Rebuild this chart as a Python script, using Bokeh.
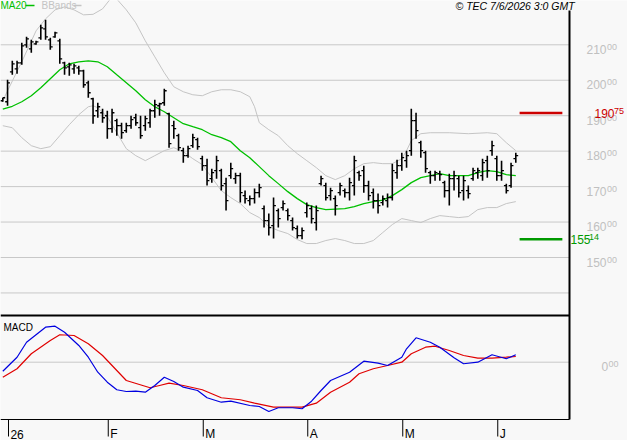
from bokeh.plotting import figure
from bokeh.models import Range1d, ColumnDataSource
from bokeh.embed import file_html
from bokeh.resources import INLINE
from bokeh.core.properties import value

# ---------------- data ----------------
opens = [194.22, 193.94, 202.39, 203.23, 204.93, 210.00, 208.87, 210.28, 211.97, 214.50,
         211.40, 212.25, 211.12, 204.93, 203.80, 203.23, 203.52, 202.67, 199.29, 194.78,
         191.40, 190.84, 189.99, 186.33, 188.59, 187.18, 185.77, 187.18, 189.43, 186.61,
         187.18, 188.02, 191.40, 192.81, 193.66, 190.56, 187.18, 184.36, 180.14, 178.73,
         181.54, 183.23, 177.88, 175.91, 172.24, 174.50, 174.50, 170.84, 173.09, 172.24,
         173.09, 167.46, 166.05, 166.61, 168.30, 163.80, 160.42, 159.01, 163.23, 164.08,
         163.23, 160.42, 158.16, 156.19, 162.67, 163.80, 159.85, 170.84, 170.28, 167.46,
         166.61, 168.30, 168.87, 168.30, 170.28, 173.94, 174.50, 170.28, 168.30, 166.05,
         165.49, 166.05, 166.90, 173.94, 175.91, 177.32, 180.14, 188.59, 182.39, 179.57,
         173.94, 173.09, 173.66, 171.12, 168.87, 172.24, 172.24, 168.87, 168.87, 172.24,
         173.94, 173.09, 177.32, 180.14, 177.88, 173.09, 170.28, 170.28, 177.88]
highs = [195.07, 200.14, 205.49, 205.49, 210.56, 212.25, 211.40, 211.12, 215.63, 217.04,
         211.97, 213.66, 211.69, 205.21, 204.93, 204.64, 204.08, 202.95, 199.85, 195.07,
         193.66, 191.97, 191.40, 191.97, 189.15, 188.02, 188.02, 189.99, 190.56, 189.99,
         189.99, 191.97, 194.50, 193.66, 197.60, 190.84, 188.59, 184.92, 180.98, 181.54,
         184.92, 183.80, 178.73, 177.88, 175.06, 178.73, 175.06, 172.53, 176.76, 173.94,
         173.94, 168.87, 167.46, 169.43, 170.84, 164.64, 162.39, 166.90, 163.80, 166.05,
         163.80, 161.26, 159.01, 158.44, 165.49, 164.64, 164.64, 173.09, 171.12, 169.71,
         167.46, 171.12, 169.43, 172.53, 178.73, 174.50, 175.91, 171.68, 169.43, 168.02,
         167.46, 168.02, 176.47, 177.60, 179.57, 180.14, 191.97, 190.84, 182.95, 180.14,
         174.50, 174.50, 174.50, 171.68, 173.66, 174.50, 173.09, 173.09, 170.28, 175.35,
         175.35, 177.88, 178.73, 182.95, 178.73, 177.32, 170.84, 176.76, 179.57]
lows = [193.94, 192.81, 201.54, 201.83, 204.36, 209.15, 207.74, 209.99, 211.40, 211.40,
        208.59, 211.97, 204.64, 201.54, 201.26, 201.83, 201.54, 197.88, 195.07, 187.74,
        189.43, 188.02, 183.51, 185.20, 184.36, 183.51, 185.20, 186.33, 187.18, 183.51,
        185.77, 186.61, 189.43, 189.99, 192.81, 180.98, 183.51, 180.14, 176.76, 178.16,
        180.98, 180.42, 174.50, 170.28, 171.12, 172.24, 168.87, 163.23, 172.24, 170.84,
        165.49, 165.21, 164.64, 165.21, 166.90, 158.44, 156.19, 155.34, 158.44, 163.23,
        160.42, 157.60, 155.34, 155.14, 161.26, 159.57, 157.60, 170.28, 166.05, 166.05,
        161.82, 167.46, 166.90, 166.05, 167.46, 171.68, 168.30, 166.05, 163.80, 162.39,
        164.64, 164.08, 166.05, 172.24, 174.50, 175.35, 178.73, 183.51, 178.16, 173.94,
        170.84, 171.68, 171.68, 166.90, 164.64, 168.87, 166.90, 166.05, 166.61, 171.68,
        172.24, 171.68, 172.53, 178.73, 171.68, 171.68, 168.02, 169.71, 176.76]
closes = [195.07, 199.29, 204.64, 204.93, 209.71, 211.69, 210.84, 210.84, 214.78, 212.25,
          209.43, 213.38, 206.05, 203.52, 204.36, 204.08, 202.67, 198.73, 196.47, 189.99,
          192.53, 189.43, 186.33, 190.84, 187.18, 185.20, 187.18, 188.87, 188.02, 184.36,
          189.15, 191.40, 193.10, 193.38, 197.04, 182.11, 186.33, 180.98, 178.73, 180.70,
          183.80, 181.26, 175.91, 171.68, 173.94, 177.32, 170.28, 166.05, 175.06, 173.09,
          168.30, 166.61, 166.61, 168.30, 169.71, 160.42, 158.44, 164.64, 160.98, 165.21,
          161.82, 158.44, 156.19, 157.60, 164.64, 160.98, 163.23, 172.24, 166.90, 168.87,
          164.64, 170.28, 168.30, 171.12, 177.32, 173.09, 170.28, 167.46, 166.05, 164.64,
          166.61, 166.90, 174.50, 175.91, 178.16, 178.73, 188.59, 185.77, 180.14, 175.06,
          173.09, 173.94, 173.38, 168.87, 172.24, 173.09, 168.30, 171.68, 168.02, 174.50,
          174.50, 176.76, 174.50, 181.54, 173.09, 174.50, 168.87, 175.91, 178.73]

ma20_idx = [0, 2, 4, 6, 8, 10, 12, 14, 16, 18, 20, 22, 24, 26, 28, 30, 32, 34, 36, 38,
            40, 42, 44, 46, 48, 50, 52, 54, 56, 58, 60, 62, 64, 66, 68, 70, 72, 74, 76, 78,
            80, 82, 84, 86, 88, 90, 92, 94, 96, 98, 100, 102, 104, 106, 108]
ma20 = [191.83, 192.66, 193.94, 195.63, 197.88, 200.42, 202.95, 204.64, 205.21, 205.49,
        205.21, 203.80, 201.54, 199.29, 197.04, 194.50, 192.53, 191.12, 189.43, 187.74,
        186.89, 186.05, 184.64, 183.80, 182.67, 180.14, 178.16, 175.63, 173.09, 170.84,
        168.58, 166.61, 164.92, 164.08, 163.51, 163.66, 163.80, 164.36, 165.21, 165.77,
        166.19, 167.46, 169.15, 171.12, 172.53, 173.09, 173.66, 173.09, 173.09, 173.09,
        173.94, 174.50, 174.22, 173.38, 173.09]

bb_up_idx = [0, 1, 4, 7, 9, 11, 13, 15, 17, 19, 21, 23, 24, 26, 28, 30, 32, 34, 36, 38,
             40, 42, 44, 46, 48, 50, 52, 53, 54, 56, 58, 60, 62, 64, 66, 68, 70, 72, 74, 76,
             78, 80, 82, 84, 85, 86, 88, 90, 94, 98, 102, 104, 106, 108]
bb_up = [194.22, 197.04, 205.21, 213.94, 217.32, 219.86, 220.70, 219.86, 218.45, 218.60,
         220.14, 223.52, 222.90, 219.86, 216.19, 211.12, 206.61, 202.11, 198.16, 196.76,
         195.91, 195.63, 196.76, 197.32, 197.32, 196.76, 195.35, 192.53, 188.02, 186.05,
         184.36, 181.54, 179.29, 177.32, 175.35, 173.09, 171.97, 173.09, 175.06, 176.47,
         176.76, 176.47, 176.47, 177.88, 180.14, 182.95, 184.92, 185.20, 185.20, 184.92,
         185.20, 184.92, 182.39, 180.14]

bb_lo_idx = [0, 2, 4, 6, 8, 10, 12, 14, 16, 18, 19, 20, 22, 24, 26, 28, 30, 32, 34, 36,
             38, 40, 42, 44, 46, 48, 50, 52, 54, 56, 58, 60, 62, 64, 66, 68, 70, 72, 74, 76,
             78, 80, 82, 84, 86, 88, 90, 92, 94, 96, 98, 100, 102, 104, 106, 108]
bb_lo = [187.18, 186.61, 183.80, 181.54, 180.70, 181.26, 184.36, 187.46, 190.28, 192.53,
         192.81, 192.25, 189.71, 185.20, 180.70, 178.73, 177.32, 178.73, 180.14, 180.98,
         179.85, 177.88, 176.19, 172.53, 168.87, 166.90, 165.21, 162.67, 161.26, 158.73,
         157.60, 156.75, 155.06, 153.94, 153.94, 154.78, 155.34, 154.78, 153.94, 153.94,
         154.78, 157.04, 159.29, 160.98, 160.42, 159.85, 160.98, 161.82, 161.54, 161.26,
         161.54, 163.51, 164.08, 164.08, 165.21, 165.77]

macd_idx = [0, 3, 5, 9, 11, 13, 16, 18, 20, 22, 24, 26, 28, 30, 32, 34, 36, 38, 41, 43,
            46, 48, 52, 54, 56, 58, 61, 63, 65, 67, 69, 73, 76, 79, 81, 84, 85, 87, 90, 92,
            95, 97, 100, 103, 106, 108]
macd = [-1.26, 0.70, 2.80, 4.90, 5.04, 4.20, 2.34, 0.70, -1.40, -2.80,
        -3.86, -4.10, -4.06, -4.20, -3.26, -2.10, -2.70, -3.50, -3.96, -4.98,
        -5.60, -5.46, -6.06, -6.20, -6.90, -6.38, -6.38, -6.52, -5.46, -3.96,
        -2.56, -1.40, 0.14, -0.14, -0.46, 0.70, 1.88, 3.42, 2.80, 2.10,
        0.62, -0.22, 0.00, 1.04, 0.48, 1.04]

signal_idx = [0, 3, 6, 10, 12, 15, 18, 21, 24, 26, 31, 33, 35, 38, 42, 46, 50, 53, 57, 61,
              63, 66, 69, 73, 75, 78, 81, 84, 86, 89, 91, 94, 97, 100, 103, 106, 108]
signal = [-2.10, -0.92, 1.18, 3.04, 3.84, 3.74, 2.58, 0.94, -1.16, -2.56,
          -3.58, -3.26, -2.94, -3.26, -3.86, -4.98, -5.26, -5.74, -6.30, -6.30,
          -6.30, -5.74, -4.20, -2.80, -1.62, -0.92, -0.46, 0.00, 1.18, 2.10,
          2.24, 1.64, 0.94, 0.56, 0.56, 0.70, 0.80]

month_labels = ["26", "F", "M", "A", "M", "J"]
month_first_bar = [1, 22, 42, 64, 84, 104]
price_labels = [210, 200, 190, 180, 170, 160, 150]
grid_levels = [210, 200, 190, 180, 170, 160, 150, 140]
resistance = 190.75
support = 155.14
macd_zero = 0.0
stamp = "\u00a9 TEC 7/6/2026 3:0 GMT"

# ---------------- layout / style constants ----------------
W, H = 627, 440
BG = "#F8F8F8"
PX_PER_BAR = 4.75
FIRST_BAR_PX = 2.3
PRICE_TOP = 222.50
PRICE_PER_PX = 0.2821
MACD_ZERO_PX = 361.7
MACD_PER_PX = 0.14
BORDER_PX = 569
SEP_PX = 315
BOTTOM_PX = 419
TEXT_DY = -5.0          # empirical correction of the text baseline (pixels)
FONT = value("Liberation Sans")
GRID_C = "#C8C8C8"
LABEL_C = "#C0C0C0"

x_start = -FIRST_BAR_PX / PX_PER_BAR
x_end = x_start + W / PX_PER_BAR
y_end = PRICE_TOP
y_start = PRICE_TOP - H * PRICE_PER_PX
m_end = MACD_ZERO_PX * MACD_PER_PX
m_start = -(H - MACD_ZERO_PX) * MACD_PER_PX


def px2x(px):
    return x_start + px / PX_PER_BAR


def py2y(py):
    return y_end - py * PRICE_PER_PX


def ty(py):
    """data y for a text baseline at pixel row py"""
    return py2y(py + TEXT_DY)


def y2py(y):
    return (y_end - y) / PRICE_PER_PX


def m2py(m):
    return (m_end - m) / MACD_PER_PX


p = figure(width=W, height=H, x_range=Range1d(x_start, x_end), y_range=Range1d(y_start, y_end),
           toolbar_location=None, output_backend="svg", min_border=0,
           x_axis_location=None, y_axis_location=None,
           background_fill_color=BG, border_fill_color=BG, outline_line_color=None)
p.extra_y_ranges = {"macd": Range1d(m_start, m_end)}
p.xgrid.visible = False
p.ygrid.visible = False

# grid lines of the price panel
p.segment(x0=[px2x(0)] * len(grid_levels), x1=[px2x(BORDER_PX)] * len(grid_levels),
          y0=grid_levels, y1=grid_levels, line_color=GRID_C, line_width=1)
# MACD zero line
p.segment(x0=[px2x(0)], x1=[px2x(BORDER_PX)], y0=[macd_zero], y1=[macd_zero],
          line_color=GRID_C, line_width=1, y_range_name="macd")

# Bollinger bands and MA20
p.line(bb_up_idx, bb_up, line_color="#C4C4C4", line_width=1)
p.line(bb_lo_idx, bb_lo, line_color="#C4C4C4", line_width=1)
p.line(ma20_idx, ma20, line_color="#00C000", line_width=1.3)

# OHLC bars
idx = list(range(len(closes)))
src = ColumnDataSource(dict(i=idx, o=opens, h=highs, l=lows, c=closes,
                            il=[k - 0.5 for k in idx], ir=[k + 0.5 for k in idx]))
p.segment("i", "l", "i", "h", source=src, line_color="black", line_width=1.6)
p.segment("il", "o", "i", "o", source=src, line_color="black", line_width=1.3)
p.segment("i", "c", "ir", "c", source=src, line_color="black", line_width=1.3)

# support / resistance
last = idx[-1]
p.segment(x0=[last + 0.8], x1=[last + 9.8], y0=[resistance], y1=[resistance],
          line_color="#CC0000", line_width=2.5)
p.segment(x0=[last + 0.8], x1=[last + 9.8], y0=[support], y1=[support],
          line_color="#009900", line_width=2.5)

# MACD
p.line(signal_idx, signal, line_color="#E00000", line_width=1.2, y_range_name="macd")
p.line(macd_idx, macd, line_color="#0000E0", line_width=1.2, y_range_name="macd")

# frame lines
p.segment(x0=[px2x(BORDER_PX)], x1=[px2x(BORDER_PX)], y0=[py2y(10)], y1=[py2y(BOTTOM_PX)],
          line_color="black", line_width=2)
p.segment(x0=[px2x(0)], x1=[px2x(BORDER_PX)], y0=[py2y(SEP_PX)], y1=[py2y(SEP_PX)],
          line_color="black", line_width=2)
p.segment(x0=[px2x(0)], x1=[px2x(BORDER_PX)], y0=[py2y(BOTTOM_PX)], y1=[py2y(BOTTOM_PX)],
          line_color="black", line_width=1)

# x ticks and labels
tick_x = [b + 0.2 for b in month_first_bar]
p.segment(x0=tick_x, x1=tick_x, y0=[py2y(BOTTOM_PX)] * len(tick_x), y1=[py2y(436)] * len(tick_x),
          line_color="black", line_width=1)
p.text(x=[t + 0.4 for t in tick_x], y=[ty(438.5)] * len(tick_x), text=month_labels,
       text_font=FONT, text_font_size="12px", text_color="black",
       text_align="left", text_baseline="alphabetic")


def split_label(v):
    cents = int(round(v * 100))
    return str(cents // 100), f"{cents % 100:02d}"


def price_label(v, px_left, gap, color, base_dy, sup_dy):
    main, dec = split_label(v)
    py = y2py(v)
    p.text(x=[px2x(px_left)], y=[ty(py + base_dy)], text=[main], text_font=FONT,
           text_font_size="12px", text_color=color, text_align="left", text_baseline="alphabetic")
    p.text(x=[px2x(px_left + gap)], y=[ty(py + sup_dy)], text=[dec], text_font=FONT,
           text_font_size="9px", text_color=color, text_align="left", text_baseline="alphabetic")


for v in price_labels:
    price_label(v, 586, 20.5, LABEL_C, 9.5, 7.0)
price_label(resistance, 594, 19.5, "#CC0000", 5.0, 2.8)
price_label(support, 570, 18.5, "#009900", 4.8, 2.6)

# MACD zero label "0.00"
zp = m2py(macd_zero)
p.text(x=[px2x(601)], y=[ty(zp + 9.5)], text=["0"], text_font=FONT, text_font_size="12px",
       text_color=LABEL_C, text_align="left", text_baseline="alphabetic")
p.text(x=[px2x(608)], y=[ty(zp + 7.0)], text=["00"], text_font=FONT, text_font_size="9px",
       text_color=LABEL_C, text_align="left", text_baseline="alphabetic")

# legends and captions
p.text(x=[px2x(0)], y=[ty(9.5)], text=["MA20"], text_font=FONT, text_font_size="10px",
       text_color="#00C000", text_align="left", text_baseline="alphabetic")
p.segment(x0=[px2x(25)], x1=[px2x(34)], y0=[py2y(5)], y1=[py2y(5)], line_color="#00C000", line_width=1.5)
p.text(x=[px2x(41)], y=[ty(9.5)], text=["BBands"], text_font=FONT, text_font_size="10px",
       text_color="#C4C4C4", text_align="left", text_baseline="alphabetic")
p.segment(x0=[px2x(73)], x1=[px2x(81)], y0=[py2y(5)], y1=[py2y(5)], line_color="#C4C4C4", line_width=1.5)

p.text(x=[px2x(3)], y=[ty(331.5)], text=["MACD"], text_font=FONT, text_font_size="10px",
       text_color="black", text_align="left", text_baseline="alphabetic")

p.text(x=[px2x(455)], y=[ty(10)], text=[stamp], text_font=FONT, text_font_size="10.5px",
       text_font_style="italic", text_color="black", text_align="left", text_baseline="alphabetic")

open("out.html", "w").write(file_html(p, INLINE))
